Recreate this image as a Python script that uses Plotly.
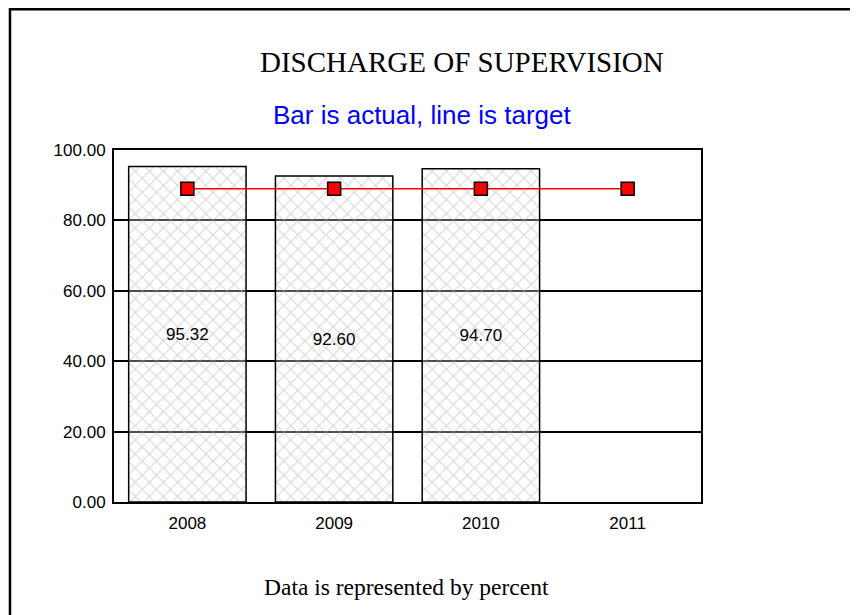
import plotly.graph_objects as go

years = ["2008", "2009", "2010", "2011"]
actual = [95.32, 92.60, 94.70, None]
target = [89.0, 89.0, 89.0, 89.0]
bar_labels = ["95.32", "92.60", "94.70", ""]
y_ticks = [0, 20, 40, 60, 80, 100]

fig = go.Figure()
fig.add_trace(go.Bar(
    x=years, y=actual, width=0.8,
    text=bar_labels, textposition="inside", insidetextanchor="middle",
    textangle=0,
    textfont=dict(family="Arial, Liberation Sans", size=17, color="black"),
    marker=dict(
        color="rgba(0,0,0,0)",
        line=dict(color="black", width=1.5),
        pattern=dict(shape="x", fgcolor="#a8a8a8", bgcolor="rgba(255,255,255,0.3)",
                     size=10, solidity=0.18, fillmode="overlay"),
    ),
    showlegend=False,
))
fig.add_trace(go.Scatter(
    x=years, y=target, mode="lines+markers",
    line=dict(color="red", width=1.5),
    marker=dict(symbol="square", size=13, color="red",
                line=dict(color="black", width=1.5)),
    showlegend=False, cliponaxis=False,
))

font_sans = "Arial, Liberation Sans, sans-serif"
font_serif = "Times New Roman, Liberation Serif, serif"

fig.update_layout(
    width=850, height=607,
    margin=dict(l=106, r=157, t=142, b=113),
    paper_bgcolor="white", plot_bgcolor="white",
    bargap=0.2,
    xaxis=dict(
        showline=True, linecolor="black", linewidth=2, mirror=True,
        showgrid=False, ticks="", tickfont=dict(family=font_sans, size=17, color="black"),
        ticklabelstandoff=5,
    ),
    yaxis=dict(
        range=[0, 100], tickvals=y_ticks, tickformat=".2f",
        showline=True, linecolor="black", linewidth=2, mirror=True,
        showgrid=True, gridcolor="black", gridwidth=1.5,
        zeroline=False, ticks="",
        tickfont=dict(family=font_sans, size=17, color="black"),
        ticklabelstandoff=3,
    ),
    shapes=[dict(
        type="path", xref="paper", yref="paper",
        path="M -0.1772,-0.5 L -0.1772,1.4 L 1.5,1.4",
        line=dict(color="black", width=2.5),
    )],
    annotations=[
        dict(text="DISCHARGE OF SUPERVISION", xref="paper", yref="paper",
             x=0.593, y=1.25, showarrow=False, xanchor="center", yanchor="middle",
             font=dict(family=font_serif, size=29, color="black")),
        dict(text="Bar is actual, line is target", xref="paper", yref="paper",
             x=0.525, y=1.099, showarrow=False, xanchor="center", yanchor="middle",
             font=dict(family=font_sans, size=26, color="blue")),
        dict(text="Data is represented by percent", xref="paper", yref="paper",
             x=0.498, y=-0.2415, showarrow=False, xanchor="center", yanchor="middle",
             font=dict(family=font_serif, size=23.5, color="black")),
    ],
)

fig.write_html("out.html")
